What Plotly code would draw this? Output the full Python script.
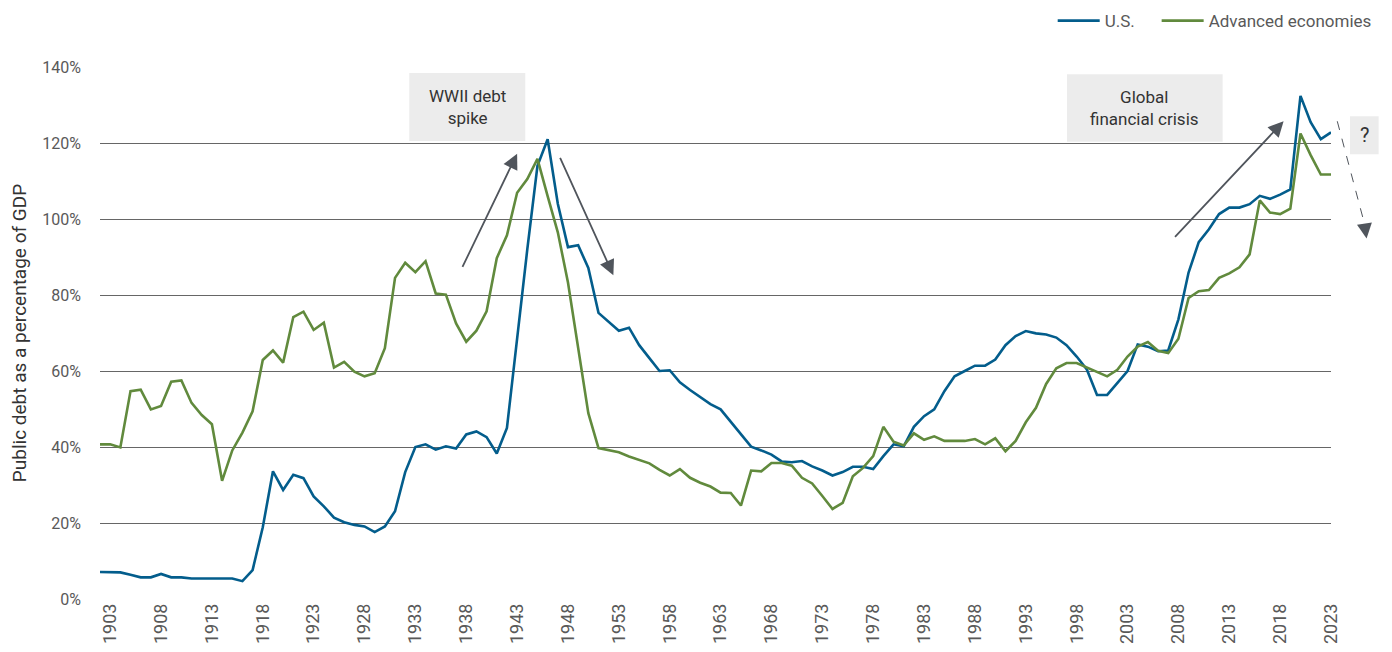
import plotly.graph_objects as go

years = list(range(1902, 2024))

us_debt = [
    7.1, 7.0, 7.0, 6.4, 5.7, 5.7, 6.6, 5.7, 5.7, 5.4,          # 1902-1911
    5.4, 5.4, 5.4, 5.4, 4.7, 7.6, 18.9, 33.6, 28.7, 32.7,      # 1912-1921
    31.8, 27.0, 24.4, 21.4, 20.2, 19.5, 19.1, 17.6, 19.1, 23.1, # 1922-1931
    33.4, 40.0, 40.7, 39.3, 40.2, 39.6, 43.3, 44.1, 42.6, 38.3, # 1932-1941
    45.0, 69.0, 92.0, 114.0, 121.0, 104.0, 92.6, 93.1, 87.1, 75.3, # 1942-1951
    72.9, 70.6, 71.4, 66.8, 63.4, 60.0, 60.2, 57.0, 55.0, 53.2, # 1952-1961
    51.3, 49.9, 46.7, 43.6, 40.1, 39.1, 38.0, 36.2, 36.0, 36.3, # 1962-1971
    34.9, 33.8, 32.5, 33.4, 34.8, 34.8, 34.2, 37.6, 40.7, 40.2, # 1972-1981
    45.3, 48.1, 49.9, 54.7, 58.6, 60.0, 61.4, 61.4, 63.0, 66.8, # 1982-1991
    69.2, 70.5, 69.9, 69.6, 68.8, 66.8, 63.8, 60.4, 53.7, 53.7, # 1992-2001
    56.8, 60.0, 67.0, 66.4, 65.2, 65.4, 73.6, 85.9, 93.9, 97.3, # 2002-2011
    101.3, 103.0, 103.0, 103.9, 106.1, 105.3, 106.4, 107.8, 132.4, 125.5, # 2012-2021
    121.0, 122.8,                                               # 2022-2023
]

adv_debt = [
    40.7, 40.7, 39.9, 54.7, 55.1, 49.9, 50.8, 57.2, 57.5, 51.6, # 1902-1911
    48.4, 46.0, 31.1, 39.1, 43.8, 49.4, 62.9, 65.4, 62.2, 74.2, # 1912-1921
    75.6, 70.8, 72.7, 60.9, 62.4, 59.8, 58.6, 59.4, 66.0, 84.5, # 1922-1931
    88.5, 86.0, 88.9, 80.4, 80.1, 72.5, 67.7, 70.6, 75.7, 89.7, # 1932-1941
    95.7, 106.9, 110.5, 115.8, 106.0, 96.5, 83.3, 65.9, 48.9, 39.7, # 1942-1951
    39.2, 38.6, 37.5, 36.6, 35.7, 34.0, 32.5, 34.2, 31.9, 30.6, # 1952-1961
    29.6, 28.0, 27.9, 24.6, 33.8, 33.6, 35.8, 35.8, 35.1, 31.9, # 1962-1971
    30.4, 27.1, 23.7, 25.3, 32.3, 34.5, 37.6, 45.3, 41.4, 40.4, # 1972-1981
    43.6, 41.9, 42.8, 41.6, 41.6, 41.6, 42.1, 40.7, 42.3, 38.9, # 1982-1991
    41.6, 46.5, 50.3, 56.6, 60.7, 62.1, 62.1, 60.9, 59.7, 58.6, # 1992-2001
    60.3, 63.8, 66.4, 67.6, 65.3, 64.7, 68.5, 79.2, 81.0, 81.3, # 2002-2011
    84.5, 85.7, 87.3, 90.7, 104.9, 101.7, 101.3, 102.7, 122.5, 116.8, # 2012-2021
    111.7, 111.7,                                               # 2022-2023
]

tick_years = list(range(1903, 2024, 5))
y_ticks = [0, 20, 40, 60, 80, 100, 120, 140]
y_ticktext = [f"{v}%" for v in y_ticks]

US_COLOR = "#035d8c"
AE_COLOR = "#618a3d"
GRID = "#666666"
ARROW = "#50555c"
BOX = "#ececec"
FONT = "Roboto, 'Noto Sans', Arial, sans-serif"
NBSP = "\u00a0"

fig = go.Figure()
fig.add_trace(go.Scatter(x=years, y=us_debt, mode="lines", name="U.S." + NBSP * 4,
                         line=dict(color=US_COLOR, width=2.6)))
fig.add_trace(go.Scatter(x=years, y=adv_debt, mode="lines", name="Advanced economies",
                         line=dict(color=AE_COLOR, width=2.6)))

shapes = [
    # WWII box
    dict(type="rect", xref="x", yref="y", x0=1932.4, x1=1943.8, y0=120.5, y1=138.4,
         fillcolor=BOX, line=dict(width=0), layer="below"),
    # GFC box
    dict(type="rect", xref="x", yref="y", x0=1997.05, x1=2012.35, y0=120.3, y1=138.1,
         fillcolor=BOX, line=dict(width=0), layer="below"),
    # ? box
    dict(type="rect", xref="paper", yref="paper", x0=1.0154, x1=1.0387, y0=0.836, y1=0.9074,
         fillcolor=BOX, line=dict(width=0)),
    # dashed arrow shaft
    dict(type="line", xref="paper", yref="paper", x0=1.0051, y0=0.898, x1=1.0270, y1=0.707,
         line=dict(color=ARROW, width=1, dash="dash")),
]

annotations = [
    dict(x=1938.1, y=129.45, xref="x", yref="y", text="WWII debt<br>spike", showarrow=False,
         xanchor="center", yanchor="middle",
         font=dict(family=FONT, size=17, color="#333333"), align="center"),
    dict(x=2004.7, y=129.2, xref="x", yref="y", text="Global<br>financial crisis", showarrow=False,
         xanchor="center", yanchor="middle",
         font=dict(family=FONT, size=17, color="#333333"), align="center"),
    dict(x=1.027, y=0.8717, xref="paper", yref="paper", text="?", showarrow=False,
         xanchor="center", yanchor="middle",
         font=dict(family=FONT, size=20, color="#333333"), align="center"),
    # WWII up arrow
    dict(x=1943.0, y=117.2, ax=1937.56, ay=87.0, xref="x", yref="y", axref="x", ayref="y",
         text="", showarrow=True, arrowhead=2, arrowsize=1.7, arrowwidth=1.8, arrowcolor=ARROW),
    # WWII down arrow
    dict(x=1952.46, y=85.2, ax=1947.16, ay=116.5, xref="x", yref="y", axref="x", ayref="y",
         text="", showarrow=True, arrowhead=2, arrowsize=1.7, arrowwidth=1.8, arrowcolor=ARROW),
    # GFC arrow
    dict(x=2018.34, y=125.7, ax=2007.53, ay=94.9, xref="x", yref="y", axref="x", ayref="y",
         text="", showarrow=True, arrowhead=2, arrowsize=1.7, arrowwidth=1.8, arrowcolor=ARROW),
    # dashed arrow head
    dict(x=1.0289, y=0.6776, xref="paper", yref="paper", ax=-2, ay=-14,
         text="", showarrow=True, arrowhead=2, arrowsize=3, arrowwidth=1, arrowcolor=ARROW),
]

fig.update_layout(
    width=1392, height=652,
    margin=dict(l=92, r=69, t=59, b=61, autoexpand=False),
    paper_bgcolor="white", plot_bgcolor="white",
    font=dict(family=FONT, size=16, color="#595959"),
    showlegend=True,
    legend=dict(orientation="h", xref="container", yref="container",
                x=0.7505, xanchor="left", y=0.98, yanchor="middle", itemwidth=42,
                font=dict(family=FONT, size=17, color="#595959"), bgcolor="rgba(0,0,0,0)"),
    shapes=shapes,
    annotations=annotations,
    xaxis=dict(range=[1902, 2023], tickmode="array", tickvals=tick_years,
               ticktext=[str(y) for y in tick_years], tickangle=-90, automargin=False,
               showgrid=False, zeroline=False, showline=False, ticks="",
               tickfont=dict(family=FONT, size=18, color="#595959")),
    yaxis=dict(range=[0, 140], tickmode="array", tickvals=y_ticks, ticktext=y_ticktext,
               showgrid=True, gridcolor=GRID, gridwidth=1, zeroline=False, showline=False,
               ticks="", ticklabelstandoff=18, automargin=False,
               tickfont=dict(family=FONT, size=16, color="#595959"),
               title=dict(text="Public debt as a percentage of GDP", standoff=12,
                          font=dict(family=FONT, size=19, color="#333333"))),
)

fig.write_html("out.html")
